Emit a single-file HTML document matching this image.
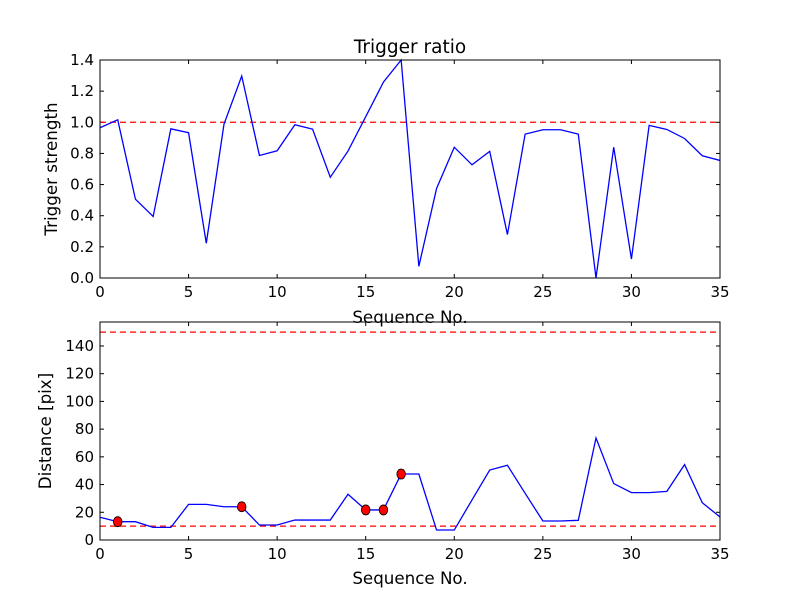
<!DOCTYPE html>
<html><head><meta charset="utf-8"><style>
body{margin:0;background:#fff;}
svg{display:block;font-family:"DejaVu Sans","Liberation Sans",sans-serif;}
</style></head><body>
<svg id="fig" width="800" height="600" viewBox="0 0 800 600"></svg>
<script>
const seqX = Array.from({length:36},(_,i)=>i);
const triggerStrength = [0.965,1.016,0.506,0.395,0.958,0.933,0.223,0.988,1.297,0.787,0.817,0.984,0.956,0.647,0.815,1.036,1.258,1.4,0.075,0.575,0.840,0.727,0.813,0.279,0.924,0.952,0.952,0.924,0.0,0.84,0.122,0.98,0.954,0.896,0.785,0.755];
const distance = [16.4,13.2,13.2,9.1,9.1,25.7,25.7,24,24,10.8,10.8,14.4,14.4,14.4,33,21.7,21.7,47.6,47.6,7.2,7.2,28.9,50.5,53.9,33.7,13.7,13.7,14.2,73.6,40.7,34.2,34.2,35.1,54.4,26.9,16.6];
const flaggedIdx = [1,8,15,16,17];
const triggerThreshold = [1.0];
const distanceThresholds = [150,10];
const xTicks = [0,5,10,15,20,25,30,35];
const topYTicks = [0,0.2,0.4,0.6,0.8,1.0,1.2,1.4];
const botYTicks = [0,20,40,60,80,100,120,140];

const NS="http://www.w3.org/2000/svg";
const svg=document.getElementById('fig');
function el(tag,attrs,parent){const e=document.createElementNS(NS,tag);for(const k in attrs)e.setAttribute(k,attrs[k]);(parent||svg).appendChild(e);return e;}

function panel(name,top,bottom,ymax,yTicks,yFmt){
  const L=100,R=720;
  const g=el('g',{});
  
  
  const sx=v=>L+(v-0)/(35-0)*(R-L);
  const sy=v=>bottom-(v/ymax)*(bottom-top);
  xTicks.forEach(t=>{
    const x=sx(t);
    el('line',{x1:x,x2:x,y1:bottom,y2:bottom-4,stroke:'#000'},g);
    el('line',{x1:x,x2:x,y1:top,y2:top+4,stroke:'#000'},g);
    const tx=el('text',{x:x,y:bottom+19,'text-anchor':'middle','font-size':15},g);
    tx.textContent=t;
    
    
  });
  yTicks.forEach(t=>{
    const y=sy(t);
    el('line',{x1:L,x2:L+4,y1:y,y2:y,stroke:'#000'},g);
    el('line',{x1:R,x2:R-4,y1:y,y2:y,stroke:'#000'},g);
    const tx=el('text',{x:L-6,y:y+5,'text-anchor':'end','font-size':15},g);
    tx.textContent=yFmt(t);
    
    
  });
  return {g,sx,sy,L,R,top,bottom};
}

const P1=panel('trigger-ratio-chart',60,278,1.4,topYTicks,v=>v.toFixed(1));
triggerThreshold.forEach(v=>{
  const l=el('line',{x1:P1.L,x2:P1.R,y1:P1.sy(v),y2:P1.sy(v),stroke:'#f00','stroke-width':1.3,'stroke-dasharray':'6,4'},P1.g);
  
  
});
const l1=el('polyline',{points:seqX.map((x,i)=>P1.sx(x)+','+P1.sy(triggerStrength[i])).join(' '),fill:'none',stroke:'#00f','stroke-width':1.3},P1.g);


el('rect',{x:P1.L,y:P1.top,width:P1.R-P1.L,height:P1.bottom-P1.top,fill:'none',stroke:'#000','stroke-width':1},P1.g);

const P2=panel('distance-chart',322,540,157.3,botYTicks,v=>String(v));
distanceThresholds.forEach(v=>{
  const l=el('line',{x1:P2.L,x2:P2.R,y1:P2.sy(v),y2:P2.sy(v),stroke:'#f00','stroke-width':1.3,'stroke-dasharray':'6,4'},P2.g);
  
  
});
const l2=el('polyline',{points:seqX.map((x,i)=>P2.sx(x)+','+P2.sy(distance[i])).join(' '),fill:'none',stroke:'#00f','stroke-width':1.3},P2.g);


flaggedIdx.forEach(i=>{
  const c=el('ellipse',{cx:P2.sx(seqX[i]),cy:P2.sy(distance[i]),rx:4.3,ry:5,fill:'#f00',stroke:'#000','stroke-width':0.8},P2.g);
  
  
});
el('rect',{x:P2.L,y:P2.top,width:P2.R-P2.L,height:P2.bottom-P2.top,fill:'none',stroke:'#000','stroke-width':1},P2.g);

function txt(name,s,attrs){const t=el('text',attrs);t.textContent=s;return t;}
txt('chart-title','Trigger ratio',{x:410,y:53,'text-anchor':'middle','font-size':18.5});
txt('top-x-axis-title','Sequence No.',{x:410,y:323,'text-anchor':'middle','font-size':16.7});
txt('top-y-axis-title','Trigger strength',{x:0,y:0,'text-anchor':'middle','font-size':16.7,transform:'translate(57,169) rotate(-90)'});
txt('bottom-x-axis-title','Sequence No.',{x:410,y:584,'text-anchor':'middle','font-size':16.7});
txt('bottom-y-axis-title','Distance [pix]',{x:0,y:0,'text-anchor':'middle','font-size':16.7,transform:'translate(51,431) rotate(-90)'});
</script>
</body></html>
